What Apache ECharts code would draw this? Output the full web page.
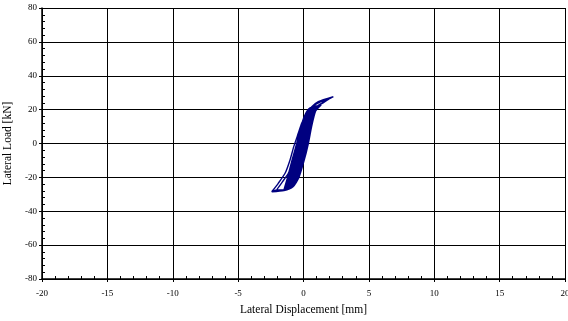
<!DOCTYPE html>
<html>
<head>
<meta charset="utf-8">
<script src="https://cdn.jsdelivr.net/npm/echarts@6/dist/echarts.min.js"></script>
<style>
  html, body { margin: 0; padding: 0; background: #fff; }
  #chart { width: 568px; height: 321px; }
</style>
</head>
<body>
<div id="chart"></div>
<script>
// tick ranges of the axes
const xTicks = [-20, -15, -10, -5, 0, 5, 10, 15, 20]
const yTicks = [-80, -60, -40, -20, 0, 20, 40, 60, 80]

// hysteresis loops: [displacement mm, load kN]
const loopA = [[-2.43, -28.5], [-1.93, -23.5], [-1.41, -17.6], [-1.03, -9.7], [-0.75, -2], [-0.4, 6], [-0.14, 11.9], [0.24, 17.8], [0.63, 21.7], [1.13, 24.7], [2.28, 27.6],
  [1.9, 26], [1.39, 23.7], [1.0, 21.7], [0.88, 19.8], [0.63, 12], [0.37, 4], [0.1, -7], [-0.35, -20], [-0.8, -25.5], [-1.5, -27.8], [-2.43, -28.5]]
const loopB = [[-2.05, -27.4], [-1.6, -22.5], [-1.16, -17.6], [-0.78, -9.7], [-0.52, -2.8], [-0.25, 5], [0.02, 12], [0.35, 18], [0.75, 22], [1.3, 24.6], [1.9, 26],
  [1.5, 24], [1.1, 22], [0.9, 19.5], [0.6, 10], [0.34, 0], [0.02, -10], [-0.38, -20], [-0.85, -25.5], [-1.4, -27.4], [-2.05, -27.4]]
const loop1 = [[-1.55, -27.5], [-1.22, -20], [-0.88, -10], [-0.52, 0], [-0.2, 10], [0.12, 17], [0.5, 21], [1.3, 22.6],
  [0.92, 19], [0.62, 10], [0.37, 0], [0.05, -10], [-0.35, -20], [-0.8, -25], [-1.55, -27.5]]
const loop2 = [[-1.45, -27.2], [-1.15, -20], [-0.8, -10], [-0.45, 0], [-0.13, 10], [0.18, 17], [0.55, 21], [1.25, 22.4],
  [0.88, 19], [0.58, 10], [0.32, 0], [0.0, -10], [-0.4, -20], [-0.85, -25], [-1.45, -27.2]]
const loop3 = [[-1.5, -27.8], [-1.1, -20], [-0.74, -10], [-0.4, 0], [-0.08, 10], [0.22, 17], [0.6, 21], [1.2, 22.2],
  [0.85, 19], [0.55, 10], [0.28, 0], [-0.05, -10], [-0.45, -20], [-0.88, -25], [-1.5, -27.8]]
const loop4 = [[-1.4, -27], [-1.05, -20], [-0.7, -10], [-0.35, 0], [-0.03, 10], [0.26, 17], [0.62, 21], [1.15, 22],
  [0.82, 19], [0.5, 10], [0.24, 0], [-0.1, -10], [-0.5, -20], [-0.92, -25], [-1.4, -27]]
const loop5 = [[-1.35, -26.8], [-1.0, -20], [-0.64, -10], [-0.3, 0], [0.02, 10], [0.3, 17], [0.65, 21], [1.1, 21.8],
  [0.8, 19], [0.47, 10], [0.2, 0], [-0.14, -10], [-0.55, -20], [-0.95, -25], [-1.35, -26.8]]
const loop6 = [[-1.3, -26.5], [-0.95, -20], [-0.6, -10], [-0.25, 0], [0.06, 10], [0.33, 17], [0.68, 21], [1.05, 21.5],
  [0.76, 19], [0.44, 10], [0.16, 0], [-0.18, -10], [-0.6, -20], [-0.98, -25], [-1.3, -26.5]]
const loop7 = [[-1.25, -26.2], [-0.9, -20], [-0.55, -10], [-0.2, 0], [0.1, 10], [0.36, 17], [0.7, 21], [1.0, 21.2],
  [0.73, 19], [0.4, 10], [0.12, 0], [-0.22, -10], [-0.65, -20], [-1.0, -25], [-1.25, -26.2]]
const loop8 = [[-1.5, -27.6], [-1.18, -20], [-0.84, -10], [-0.48, 0], [-0.16, 10], [0.15, 17], [0.52, 21], [1.35, 22.8],
  [0.9, 19], [0.6, 10], [0.34, 0], [0.02, -10], [-0.38, -20], [-0.82, -25], [-1.5, -27.6]]
const loop9 = [[-1.2, -25.8], [-0.86, -20], [-0.5, -10], [-0.16, 0], [0.13, 10], [0.4, 17], [0.72, 20.5], [0.95, 21],
  [0.7, 19], [0.38, 10], [0.1, 0], [-0.25, -10], [-0.68, -20], [-1.0, -24.5], [-1.2, -25.8]]
const loop10 = [[-1.3, -26.8], [-0.95, -20], [-0.55, -10], [-0.12, 0], [0.2, 10], [0.45, 17], [0.75, 21], [1.1, 21.8],
  [0.72, 19], [0.36, 10], [0.05, 0], [-0.3, -10], [-0.72, -20], [-1.05, -25], [-1.3, -26.8]]
const loop11 = [[-1.4, -27.3], [-1.0, -20], [-0.6, -10], [-0.06, 0], [0.26, 10], [0.5, 17], [0.8, 21], [1.2, 22.3],
  [0.75, 19], [0.33, 10], [0.0, 0], [-0.35, -10], [-0.78, -20], [-1.1, -25], [-1.4, -27.3]]
const loop12 = [[-1.2, -26], [-0.85, -20], [-0.45, -10], [-0.02, 0], [0.3, 10], [0.52, 17], [0.8, 20.5], [1.0, 21.2],
  [0.68, 19], [0.3, 10], [-0.03, 0], [-0.4, -10], [-0.8, -20], [-1.08, -24.8], [-1.2, -26]]
const loop13 = [[-1.35, -27], [-0.98, -20], [-0.58, -10], [-0.09, 0], [0.23, 10], [0.48, 17], [0.78, 21], [1.15, 22],
  [0.7, 19], [0.32, 10], [-0.02, 0], [-0.37, -10], [-0.75, -20], [-1.05, -25], [-1.35, -27]]

const loops = [loop12, loop9, loop10, loop7, loop13, loop6, loop11, loop5, loop4, loop3, loop2, loop8, loop1, loopB, loopA]
const curve = [].concat(...loops)

const font = 'Liberation Serif'
const chart = echarts.init(document.getElementById('chart'))

chart.setOption({
  animation: false,
  grid: { left: 42, right: 3, top: 8, bottom: 42, containLabel: false, outerBoundsMode: 'none' },
  xAxis: [
    {
      type: 'value',
      min: xTicks[0],
      max: xTicks[xTicks.length - 1],
      interval: 5,
      name: 'Lateral Displacement [mm]',
      nameLocation: 'middle',
      nameGap: 25,
      nameTextStyle: { fontFamily: font, fontSize: 11.5, color: '#000' },
      axisLine: { onZero: false, lineStyle: { color: '#000', width: 1.5 } },
      axisTick: { length: 3, lineStyle: { color: '#000' } },
      axisLabel: { margin: 10, fontFamily: font, fontSize: 9, color: '#000' },
      splitLine: { show: true, lineStyle: { color: '#000', width: 1 } }
    },
    {
      // inward minor ticks
      type: 'value',
      position: 'bottom',
      min: xTicks[0],
      max: xTicks[xTicks.length - 1],
      interval: 1,
      axisLine: { show: false, onZero: false },
      axisTick: { inside: true, length: 3, lineStyle: { color: '#000' } },
      axisLabel: { show: false },
      splitLine: { show: false }
    }
  ],
  yAxis: [
    {
      type: 'value',
      min: yTicks[0],
      max: yTicks[yTicks.length - 1],
      interval: 20,
      name: 'Lateral Load [kN]',
      nameLocation: 'middle',
      nameGap: 28,
      nameTextStyle: { fontFamily: font, fontSize: 11.5, color: '#000' },
      axisLine: { show: true, onZero: false, lineStyle: { color: '#000', width: 1.5 } },
      axisTick: { show: true, length: 3, lineStyle: { color: '#000' } },
      axisLabel: { margin: 5, fontFamily: font, fontSize: 9, color: '#000' },
      splitLine: { show: true, lineStyle: { color: '#000', width: 1 } }
    },
    {
      type: 'value',
      position: 'left',
      min: yTicks[0],
      max: yTicks[yTicks.length - 1],
      interval: 4,
      axisLine: { show: false, onZero: false },
      axisTick: { show: true, inside: true, length: 3, lineStyle: { color: '#000' } },
      axisLabel: { show: false },
      splitLine: { show: false }
    }
  ],
  series: [
    {
      type: 'line',
      data: curve,
      showSymbol: false,
      smooth: 0.2,
      lineStyle: { color: '#000080', width: 1.4 },
      silent: true
    }
  ]
})
</script>
</body>
</html>
